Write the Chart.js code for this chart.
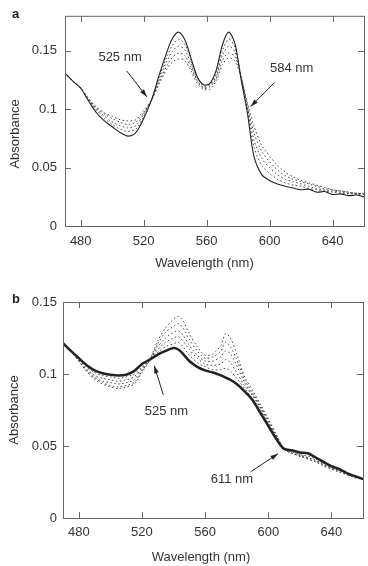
<!DOCTYPE html>
<html>
<head>
<meta charset="utf-8">
<script src="https://cdn.jsdelivr.net/npm/chart.js@4.4.1/dist/chart.umd.min.js"></script>
<style>
body { margin: 0; background: #fff; font-family: "Liberation Sans", Arial, sans-serif; }
#wrap { position: relative; width: 368px; height: 566px; }
.panel { position: absolute; left: 0; width: 368px; }
.tag { position: absolute; font-weight: bold; font-size: 13px; color: #222; }
</style>
</head>
<body>
<div id="wrap">
  <div class="panel" style="top:0;height:280px"><canvas id="chartA"></canvas></div>
  <div class="panel" style="top:280px;height:286px"><canvas id="chartB"></canvas></div>
  <div class="tag" style="left:12px;top:6px">a</div>
  <div class="tag" style="left:12px;top:291px">b</div>
</div>
<script>
// ---- panel a ----
const waveA = [470,475,480,485,490,495,500,505,510,515,520,525,530,535,538,542,546,550,554,558,562,566,570,574,578,582,586,590,595,600,605,610,615,620,625,630,635,640,645,650,655,660];
const solidA = [0.131,0.124,0.118,0.107,0.097,0.090,0.085,0.080,0.077,0.080,0.092,0.108,0.130,0.150,0.160,0.166,0.160,0.144,0.128,0.121,0.122,0.133,0.155,0.166,0.156,0.125,0.096,0.060,0.044,0.039,0.036,0.034,0.0325,0.031,0.0315,0.029,0.0295,0.027,0.0275,0.026,0.0265,0.025];
const dotA1 = [0.131,0.124,0.118,0.108,0.099,0.092,0.087,0.083,0.081,0.083,0.094,0.108,0.128,0.146,0.154,0.160,0.156,0.142,0.127,0.120,0.121,0.130,0.150,0.160,0.153,0.126,0.099,0.068,0.052,0.045,0.040,0.037,0.035,0.034,0.032,0.031,0.030,0.029,0.028,0.028,0.027,0.027];
const dotA2 = [0.131,0.124,0.118,0.108,0.100,0.094,0.089,0.086,0.084,0.086,0.096,0.108,0.126,0.142,0.149,0.154,0.151,0.139,0.125,0.119,0.120,0.128,0.146,0.154,0.149,0.127,0.101,0.074,0.058,0.050,0.044,0.040,0.038,0.036,0.034,0.032,0.031,0.030,0.029,0.028,0.028,0.027];
const dotA3 = [0.131,0.124,0.118,0.109,0.101,0.096,0.092,0.089,0.087,0.089,0.097,0.108,0.124,0.138,0.144,0.148,0.146,0.136,0.124,0.118,0.119,0.126,0.142,0.148,0.145,0.127,0.103,0.080,0.064,0.055,0.048,0.043,0.040,0.038,0.036,0.034,0.032,0.031,0.030,0.029,0.028,0.028];
const dotA4 = [0.131,0.124,0.118,0.109,0.102,0.097,0.094,0.091,0.090,0.091,0.099,0.108,0.122,0.135,0.140,0.143,0.142,0.133,0.122,0.117,0.117,0.124,0.138,0.144,0.141,0.127,0.105,0.086,0.069,0.060,0.052,0.046,0.042,0.039,0.037,0.035,0.033,0.031,0.030,0.029,0.028,0.028];

// ---- panel b ----
const waveB = [470,475,480,485,490,495,500,505,510,515,520,525,530,535,540,543,546,550,555,560,565,570,573,576,580,585,590,595,600,605,610,615,620,625,630,635,640,645,650,655,660];
const solidB = [0.1215,0.116,0.111,0.106,0.1025,0.1005,0.0995,0.099,0.0995,0.102,0.107,0.110,0.1135,0.116,0.118,0.117,0.114,0.109,0.105,0.1025,0.101,0.099,0.0975,0.096,0.093,0.088,0.082,0.073,0.064,0.055,0.048,0.047,0.0455,0.045,0.042,0.039,0.036,0.034,0.031,0.029,0.027];
const dotB1 = [0.122,0.116,0.110,0.105,0.101,0.099,0.098,0.097,0.098,0.100,0.105,0.110,0.115,0.119,0.121,0.122,0.119,0.113,0.108,0.105,0.103,0.103,0.104,0.102,0.097,0.090,0.083,0.075,0.065,0.056,0.048,0.046,0.044,0.043,0.041,0.038,0.035,0.033,0.031,0.029,0.027];
const dotB2 = [0.122,0.116,0.110,0.104,0.099,0.097,0.096,0.095,0.096,0.098,0.104,0.110,0.117,0.122,0.125,0.126,0.123,0.117,0.111,0.107,0.106,0.107,0.110,0.108,0.101,0.092,0.085,0.076,0.066,0.057,0.048,0.046,0.044,0.042,0.040,0.038,0.035,0.033,0.031,0.029,0.027];
const dotB3 = [0.122,0.116,0.109,0.103,0.098,0.095,0.094,0.093,0.094,0.096,0.103,0.110,0.119,0.125,0.129,0.130,0.127,0.120,0.113,0.109,0.109,0.112,0.116,0.114,0.106,0.094,0.086,0.077,0.067,0.057,0.048,0.045,0.043,0.042,0.040,0.037,0.035,0.033,0.031,0.029,0.027];
const dotB4 = [0.122,0.116,0.109,0.102,0.097,0.094,0.092,0.091,0.092,0.094,0.102,0.110,0.121,0.129,0.133,0.135,0.132,0.124,0.116,0.111,0.112,0.116,0.122,0.119,0.110,0.096,0.087,0.078,0.068,0.058,0.048,0.045,0.043,0.041,0.039,0.037,0.034,0.032,0.030,0.028,0.027];
const dotB5 = [0.122,0.116,0.109,0.102,0.096,0.093,0.091,0.090,0.091,0.093,0.101,0.110,0.123,0.132,0.138,0.140,0.137,0.128,0.119,0.113,0.114,0.120,0.128,0.125,0.114,0.098,0.089,0.079,0.069,0.058,0.048,0.045,0.043,0.041,0.039,0.036,0.034,0.032,0.030,0.028,0.027];

// ticks
const xTicks = [480,520,560,600,640];
const yTicksA = [0,0.05,0.1,0.15];
const yTicksB = [0,0.05,0.1,0.15];

const FONT = "'Liberation Sans', Arial, sans-serif";
const TXT = "#333";

function pts(xs, ys) { return xs.map((x, i) => ({ x: x, y: ys[i] })); }

function solid(xs, ys, w) {
  return { data: pts(xs, ys), borderColor: "#222", borderWidth: w, pointRadius: 0, tension: 0.3, fill: false };
}
function dotted(xs, ys) {
  return { data: pts(xs, ys), borderColor: "#444", borderWidth: 1, borderDash: [1.5, 2.5], pointRadius: 0, tension: 0.3, fill: false };
}

// frame, inward ticks, axis titles and arrows
const framePlugin = {
  id: "frame",
  afterDatasetsDraw(chart, args, opts) {
    const { ctx, chartArea: a, scales: { x, y } } = chart;
    ctx.save();
    ctx.strokeStyle = "#666";
    ctx.lineWidth = 1;
    ctx.strokeRect(a.left + 0.5, a.top + 0.5, a.right - a.left, a.bottom - a.top);
    const t = 6;
    ctx.beginPath();
    x.ticks.forEach(tk => {
      const px = Math.round(x.getPixelForValue(tk.value)) + 0.5;
      ctx.moveTo(px, a.bottom); ctx.lineTo(px, a.bottom - t);
      ctx.moveTo(px, a.top); ctx.lineTo(px, a.top + t);
    });
    y.ticks.forEach(tk => {
      const py = Math.round(y.getPixelForValue(tk.value)) + 0.5;
      ctx.moveTo(a.left, py); ctx.lineTo(a.left + t, py);
      ctx.moveTo(a.right, py); ctx.lineTo(a.right - t, py);
    });
    ctx.stroke();

    ctx.fillStyle = TXT;
    ctx.font = "13px " + FONT;
    ctx.textAlign = "center";
    ctx.textBaseline = "middle";
    // x title
    ctx.fillText(opts.xTitle, (a.left + a.right) / 2 + opts.xTitleDx, opts.xTitleY);
    // y title
    ctx.save();
    ctx.translate(opts.yTitleX, (a.top + a.bottom) / 2 + opts.yTitleDy);
    ctx.rotate(-Math.PI / 2);
    ctx.fillText(opts.yTitle, 0, 0);
    ctx.restore();

    // arrow notes
    ctx.strokeStyle = "#222";
    ctx.fillStyle = TXT;
    (opts.notes || []).forEach(n => {
      ctx.fillText(n.text, x.getPixelForValue(n.tx), y.getPixelForValue(n.ty));
      const x0 = x.getPixelForValue(n.from[0]), y0 = y.getPixelForValue(n.from[1]);
      const x1 = x.getPixelForValue(n.to[0]), y1 = y.getPixelForValue(n.to[1]);
      const ang = Math.atan2(y1 - y0, x1 - x0);
      ctx.beginPath();
      ctx.moveTo(x0, y0); ctx.lineTo(x1, y1);
      ctx.stroke();
      ctx.beginPath();
      ctx.moveTo(x1, y1);
      ctx.lineTo(x1 - 8 * Math.cos(ang - 0.3), y1 - 8 * Math.sin(ang - 0.3));
      ctx.lineTo(x1 - 8 * Math.cos(ang + 0.3), y1 - 8 * Math.sin(ang + 0.3));
      ctx.closePath();
      ctx.fillStyle = "#222";
      ctx.fill();
      ctx.fillStyle = TXT;
    });
    ctx.restore();
  }
};

function makeOptions(cfg) {
  return {
    responsive: true,
    maintainAspectRatio: false,
    animation: false,
    layout: { padding: { top: cfg.top, right: cfg.right, left: 0, bottom: 0 } },
    plugins: {
      legend: { display: false },
      tooltip: { enabled: false },
      frame: cfg.frame
    },
    scales: {
      x: {
        type: "linear", min: 470, max: 660,
        afterBuildTicks: s => { s.ticks = xTicks.map(v => ({ value: v })); },
        afterFit: s => { s.height = cfg.xHeight; },
        grid: { display: true, drawOnChartArea: false, drawTicks: false },
        border: { display: false },
        ticks: { color: TXT, font: { size: 13, family: FONT }, padding: cfg.xPad, maxRotation: 0 }
      },
      y: {
        min: 0, max: cfg.ymax,
        afterBuildTicks: s => { s.ticks = cfg.yTicks.map(v => ({ value: v })); },
        afterFit: s => { s.width = cfg.yWidth; },
        grid: { display: true, drawOnChartArea: false, drawTicks: false },
        border: { display: false },
        ticks: { color: TXT, font: { size: 13, family: FONT }, padding: cfg.yPad, callback: v => String(v) }
      }
    }
  };
}

new Chart(document.getElementById("chartA"), {
  type: "line",
  data: {
    datasets: [
      solid(waveA, solidA, 1.1),
      dotted(waveA, dotA1), dotted(waveA, dotA2), dotted(waveA, dotA3), dotted(waveA, dotA4)
    ]
  },
  options: makeOptions({
    top: 8, right: 4, xHeight: 54, yWidth: 65, xPad: 8, yPad: 8, ymax: 0.18, yTicks: yTicksA,
    frame: {
      xTitle: "Wavelength (nm)", xTitleDx: -10, xTitleY: 263,
      yTitle: "Absorbance", yTitleX: 15, yTitleDy: 13,
      notes: [
        { text: "525 nm", tx: 505, ty: 0.1444, from: [509.2, 0.1328], to: [522, 0.1106] },
        { text: "584 nm", tx: 614, ty: 0.1353, from: [603.2, 0.1229], to: [588, 0.1023] }
      ]
    }
  }),
  plugins: [framePlugin]
});

new Chart(document.getElementById("chartB"), {
  type: "line",
  data: {
    datasets: [
      solid(waveB, solidB, 2.5),
      dotted(waveB, dotB1), dotted(waveB, dotB2), dotted(waveB, dotB3), dotted(waveB, dotB4), dotted(waveB, dotB5)
    ]
  },
  options: makeOptions({
    top: 22, right: 5, xHeight: 48, yWidth: 63, xPad: 7, yPad: 6, ymax: 0.15, yTicks: yTicksB,
    frame: {
      xTitle: "Wavelength (nm)", xTitleDx: -12, xTitleY: 277,
      yTitle: "Absorbance", yTitleX: 14, yTitleDy: 0,
      notes: [
        { text: "525 nm", tx: 535.5, ty: 0.074, from: [533.5, 0.0856], to: [527.8, 0.1058] },
        { text: "611 nm", tx: 577, ty: 0.0266, from: [589, 0.0322], to: [606.2, 0.0447] }
      ]
    }
  }),
  plugins: [framePlugin]
});
</script>
</body>
</html>
